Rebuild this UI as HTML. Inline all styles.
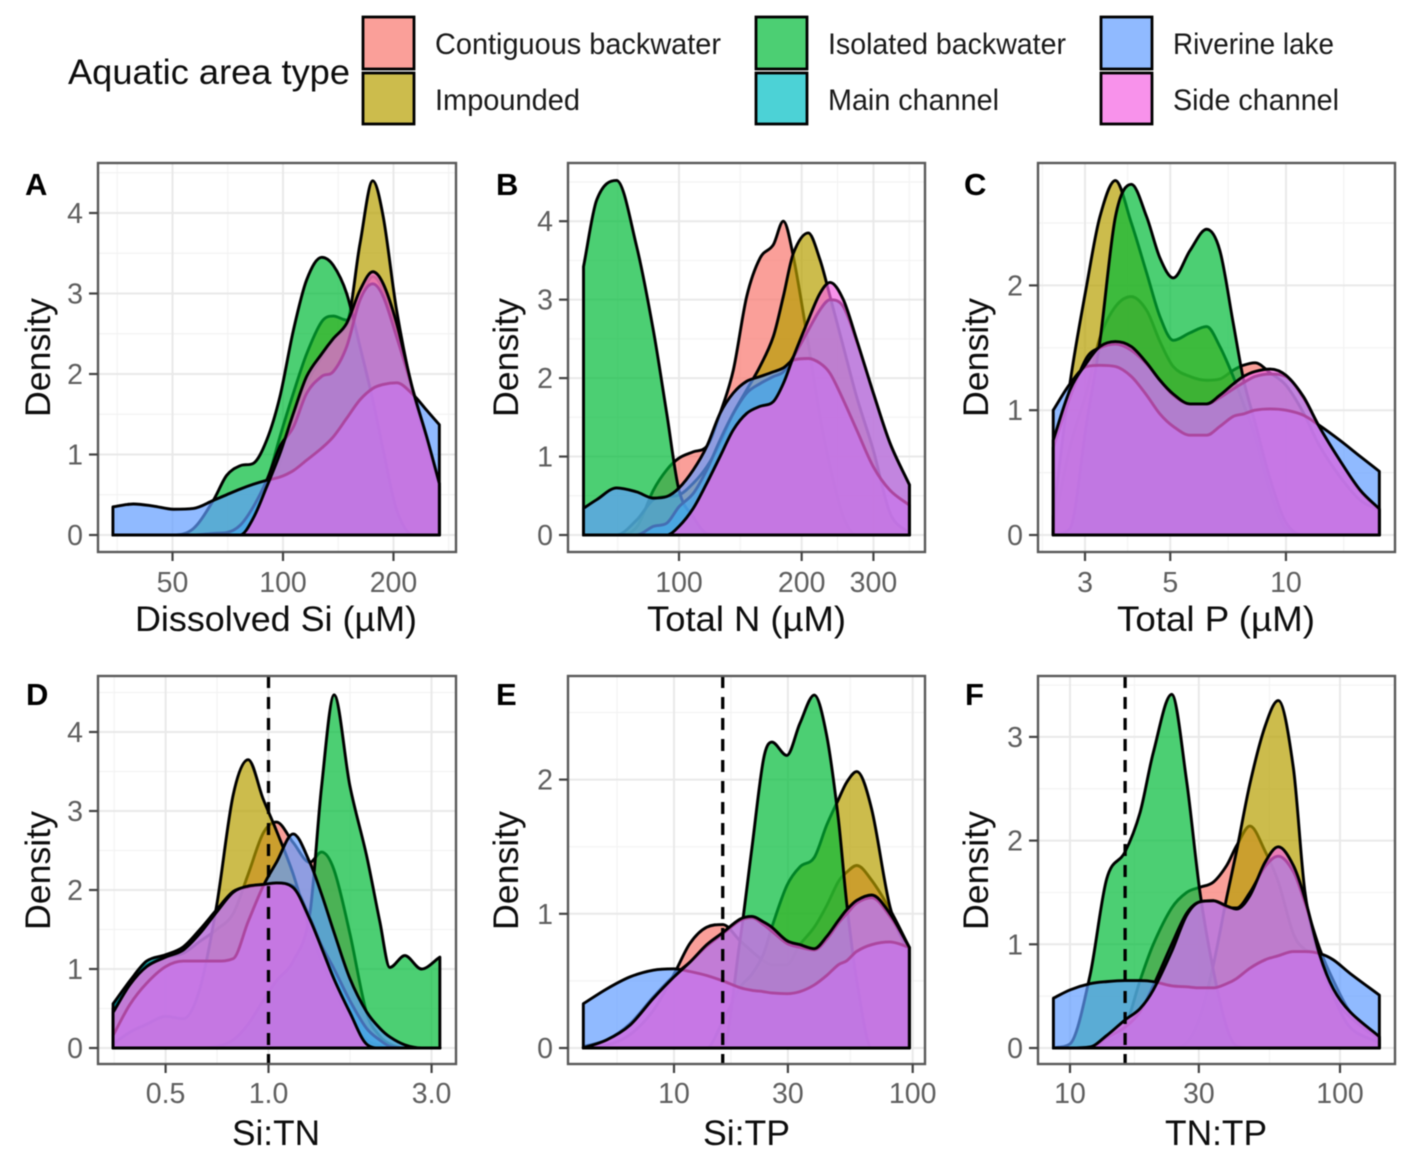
<!DOCTYPE html>
<html lang="en">
<head>
<meta charset="utf-8">
<title>Aquatic area type density panels</title>
<style>
html,body{margin:0;padding:0;background:#fff;}
#figure{display:block;width:1418px;height:1167px;filter:blur(0.6px);font-family:"Liberation Sans",sans-serif;}
.title{font-size:35px;fill:#0d0d0d;}
.leg{font-size:30px;fill:#1a1a1a;}
.letter{font-size:31px;font-weight:bold;fill:#000;}
.tick{font-size:28.5px;fill:#5f5f5f;}
</style>
</head>
<body>
<svg id="figure" xmlns="http://www.w3.org/2000/svg" width="1418" height="1167" viewBox="0 0 1418 1167">
  <rect x="0" y="0" width="1418" height="1167" fill="#fff"/>
  <g id="panels"></g>
  <g>
    <text class="title" x="68" y="84" textLength="282" lengthAdjust="spacingAndGlyphs">Aquatic area type</text>
    <rect x="363" y="17" width="51" height="52" fill="#F8766D" fill-opacity="0.7" stroke="#000" stroke-width="2.8"/>
    <rect x="363" y="73" width="51" height="51" fill="#B79F00" fill-opacity="0.7" stroke="#000" stroke-width="2.8"/>
    <rect x="756" y="17" width="51" height="52" fill="#00BA38" fill-opacity="0.7" stroke="#000" stroke-width="2.8"/>
    <rect x="756" y="73" width="51" height="51" fill="#00BFC4" fill-opacity="0.7" stroke="#000" stroke-width="2.8"/>
    <rect x="1101" y="17" width="51" height="52" fill="#619CFF" fill-opacity="0.7" stroke="#000" stroke-width="2.8"/>
    <rect x="1101" y="73" width="51" height="51" fill="#F564E3" fill-opacity="0.7" stroke="#000" stroke-width="2.8"/>
    <text class="leg" x="435" y="54" textLength="286" lengthAdjust="spacingAndGlyphs">Contiguous backwater</text>
    <text class="leg" x="435" y="110" textLength="145" lengthAdjust="spacingAndGlyphs">Impounded</text>
    <text class="leg" x="828" y="54" textLength="238" lengthAdjust="spacingAndGlyphs">Isolated backwater</text>
    <text class="leg" x="828" y="110" textLength="171" lengthAdjust="spacingAndGlyphs">Main channel</text>
    <text class="leg" x="1173" y="54" textLength="161" lengthAdjust="spacingAndGlyphs">Riverine lake</text>
    <text class="leg" x="1173" y="110" textLength="166" lengthAdjust="spacingAndGlyphs">Side channel</text>
  </g>
  <g>
    <text class="title" x="135" y="631" textLength="282" lengthAdjust="spacingAndGlyphs">Dissolved Si (µM)</text>
    <text class="title" x="647" y="631" textLength="199" lengthAdjust="spacingAndGlyphs">Total N (µM)</text>
    <text class="title" x="1117" y="631" textLength="198" lengthAdjust="spacingAndGlyphs">Total P (µM)</text>
    <text class="title" x="232" y="1145" textLength="88" lengthAdjust="spacingAndGlyphs">Si:TN</text>
    <text class="title" x="703" y="1145" textLength="87" lengthAdjust="spacingAndGlyphs">Si:TP</text>
    <text class="title" x="1165" y="1145" textLength="102" lengthAdjust="spacingAndGlyphs">TN:TP</text>
    <text class="title" transform="translate(50 417) rotate(-90)" textLength="119" lengthAdjust="spacingAndGlyphs">Density</text>
    <text class="title" transform="translate(518 417) rotate(-90)" textLength="119" lengthAdjust="spacingAndGlyphs">Density</text>
    <text class="title" transform="translate(988 417) rotate(-90)" textLength="119" lengthAdjust="spacingAndGlyphs">Density</text>
    <text class="title" transform="translate(50 930) rotate(-90)" textLength="119" lengthAdjust="spacingAndGlyphs">Density</text>
    <text class="title" transform="translate(518 930) rotate(-90)" textLength="119" lengthAdjust="spacingAndGlyphs">Density</text>
    <text class="title" transform="translate(988 930) rotate(-90)" textLength="119" lengthAdjust="spacingAndGlyphs">Density</text>
  </g>
  <g>
    <text class="letter" x="25" y="195">A</text>
    <text class="letter" x="496" y="195">B</text>
    <text class="letter" x="964" y="195">C</text>
    <text class="letter" x="26" y="705">D</text>
    <text class="letter" x="496" y="705">E</text>
    <text class="letter" x="965" y="705">F</text>
  </g>
</svg>
<script>
// Panel A: Dissolved Si (µM)
const aX=[34.4,39.1,44.3,50.3,57.0,64.6,70.2,76.4,83.0,90.3,98.1,106.7,116.0,127.5,137.1,149.1,162.1,175.6,187.6,204.0,226.6,246.3,266.7];
const aContiguous=[0,0,0,0,0,0,0,0,.14,.48,.89,1.47,1.88,2.21,2.42,2.59,2.92,3.21,3.04,2.54,1.72,1.14,.56];
const aImpounded=[0,0,0,0,0,0,0,0,.19,.64,1.22,1.76,2.25,2.65,2.72,2.67,3.62,4.4,3.95,2.79,1.74,1.14,.6];
const aIsolated=[0,0,0,0,.08,.43,.74,.86,.89,1.18,1.72,2.54,3.17,3.45,3.35,3.0,2.34,1.68,1.05,.31,0,0,0];
const aMain=[0,0,0,0,0,.02,.03,.12,.35,.68,1.1,1.34,1.76,1.97,2.03,2.34,2.92,3.12,2.96,2.46,1.78,1.22,.64];
const aRiverine=[.35,.385,.36,.32,.33,.43,.5,.57,.63,.68,.72,.8,.93,1.08,1.22,1.45,1.68,1.82,1.87,1.89,1.74,1.55,1.37];
const aSide=[0,0,0,0,0,0,0,0,.21,.6,1.01,1.51,1.97,2.25,2.44,2.63,3.04,3.27,3.12,2.63,1.78,1.22,.64];
const aXTicks=[50,100,200];
const aXTickLabels=['50','100','200'];
const aYTicks=[0,1,2,3,4];

// Panel B: Total N (µM)
const bX=[58.3,62.8,70.3,78.7,86.5,93.3,100,108.4,117.0,126.1,135.9,146.6,158.1,170.4,180.3,190.8,207.6,221.8,234.8,253.1,272.9,299.8,329.5,367.6];
const bContiguous=[0,0,0,.1,.57,.83,.98,1.06,1.13,1.55,2.1,3.04,3.53,3.7,4.0,3.55,2.44,1.51,.87,.23,0,0,0,0];
const bImpounded=[0,0,0,.19,.45,.49,.51,.66,.87,1.17,1.55,1.85,2.15,2.53,3.04,3.59,3.85,3.51,3.04,2.4,1.76,1.08,.28,.02];
const bIsolated=[3.42,4.27,4.52,3.68,2.61,1.55,.57,.23,.02,0,0,0,0,0,0,0,0,0,0,0,0,0,0,0];
const bMain=[0,0,0,0,.11,.15,.36,.53,.83,1.21,1.55,1.81,1.93,2.02,2.08,2.27,2.61,2.87,3.0,2.91,2.47,1.81,1.17,.64];
const bRiverine=[.34,.45,.6,.55,.47,.49,.6,.83,1.13,1.55,1.81,1.96,2.02,2.08,2.13,2.23,2.25,2.19,2.06,1.72,1.34,.87,.57,.38];
const bSide=[0,0,0,0,0,0,.11,.34,.66,1.0,1.34,1.55,1.64,1.7,1.93,2.27,2.74,3.08,3.22,3.0,2.49,1.81,1.17,.64];
const bXTicks=[100,200,300];
const bXTickLabels=['100','200','300'];
const bYTicks=[0,1,2,3,4];

// Panel C: Total P (µM)
const cX=[2.48,2.74,3.03,3.28,3.60,3.96,4.34,4.70,5.09,5.63,6.22,6.73,7.29,7.75,8.31,9.09,10.0,11.1,12.2,13.8,15.6,17.5];
const cContiguous=[.05,.7,1.15,1.58,1.83,1.91,1.8,1.55,1.35,1.27,1.24,1.25,1.32,1.36,1.38,1.3,1.2,.98,.72,.47,.28,.2];
const cImpounded=[.15,1.21,2.0,2.55,2.84,2.5,2.1,1.75,1.56,1.62,1.67,1.51,1.27,1.05,.79,.35,.05,0,0,0,0,0];
const cIsolated=[0,.05,.9,1.55,2.55,2.81,2.55,2.22,2.06,2.28,2.45,2.28,1.7,1.25,.9,.45,.1,0,0,0,0,0];
const cMain=[.7,1.1,1.42,1.5,1.53,1.48,1.37,1.24,1.12,1.05,1.05,1.1,1.17,1.22,1.27,1.29,1.27,1.1,.87,.6,.35,.2];
const cRiverine=[1.0,1.21,1.35,1.36,1.35,1.27,1.12,.97,.87,.8,.8,.87,.95,.97,1.0,1.01,1.0,.96,.88,.76,.63,.51];
const cSide=[.76,1.16,1.38,1.51,1.55,1.51,1.38,1.24,1.13,1.05,1.05,1.12,1.21,1.27,1.31,1.33,1.28,1.11,.87,.6,.36,.21];
const cXTicks=[3,5,10];
const cXTickLabels=['3','5','10'];
const cYTicks=[0,1,2];

// Panel D: Si:TN
const dX=[.351,.393,.44,.5,.563,.63,.705,.788,.872,.965,1.055,1.181,1.321,1.429,1.556,1.73,1.935,2.117,2.265,2.505,2.803,3.172];
const dContiguous=[.5,.85,1.05,1.15,1.2,1.35,1.5,1.7,2.2,2.72,2.86,2.6,2.35,2.48,2.25,1.45,.45,.15,.05,0,0,0];
const dImpounded=[.05,.2,.3,.4,.37,.75,1.8,3.2,3.65,3.15,2.75,2.2,1.5,1.1,.75,.35,.1,.03,0,0,0,0];
const dIsolated=[0,0,0,0,0,0,.02,.1,.3,.6,.85,1.1,1.7,3.3,4.47,3.32,2.44,1.6,1.02,1.17,1.0,1.15];
const dMain=[.56,.85,1.1,1.18,1.28,1.5,1.75,1.98,2.04,2.07,2.09,2.05,1.65,1.3,1.0,.6,.25,.1,.02,0,0,0];
const dRiverine=[.16,.55,.82,1.03,1.1,1.1,1.1,1.13,1.6,2.05,2.35,2.71,2.35,1.95,1.46,.88,.46,.25,.14,.04,0,0];
const dSide=[.45,.8,1.03,1.15,1.24,1.45,1.72,1.97,2.05,2.07,2.09,2.03,1.63,1.27,.87,.45,.05,0,0,0,0,0];
const dXTicks=[.5,1,3];
const dXTickLabels=['0.5','1.0','3.0'];
const dYTicks=[0,1,2,3,4];
const dReference=[1];

// Panel E: Si:TP
const eX=[4.17,5.22,6.54,8.19,10,11.67,13.71,16,18.9,21.2,23.7,25.7,29.7,33.7,38.7,43.6,48.8,52.9,58.3,67.3,80.4,96.8];
const eContiguous=[0,.02,.1,.28,.55,.78,.9,.92,.8,.72,.65,.62,.62,.77,.9,1.06,1.24,1.31,1.36,1.25,1.03,.75];
const eImpounded=[0,0,0,0,0,0,0,.2,.45,.55,.7,.9,1.21,1.35,1.42,1.66,1.85,1.98,2.06,1.78,1.05,.7];
const eIsolated=[0,0,0,0,0,0,0,0,.8,1.49,2.15,2.28,2.18,2.42,2.63,2.33,1.71,1.08,.5,0,0,0];
const eMain=[.01,.06,.18,.38,.54,.64,.76,.85,.95,.97,.92,.87,.78,.75,.73,.81,.93,1.0,1.08,1.12,.98,.75];
const eRiverine=[.33,.44,.53,.58,.59,.57,.54,.5,.45,.43,.42,.41,.405,.42,.47,.54,.62,.65,.72,.77,.79,.75];
const eSide=[0,.06,.17,.37,.53,.64,.77,.86,.96,.98,.94,.9,.8,.77,.74,.83,.95,1.03,1.1,1.14,1.0,.75];
const eXTicks=[10,30,100];
const eXTickLabels=['10','30','100'];
const eYTicks=[0,1,2];
const eReference=[16];

// Panel F: TN:TP
const fX=[8.68,10,11.86,13.67,15.98,18.17,20.35,23.8,27.05,30.3,33.95,38.04,41.4,46.4,52.75,59.1,67.2,74.2,84.3,94.5,108.9,139.9];
const fContiguous=[0,0,0,.05,.2,.65,1.0,1.35,1.5,1.55,1.6,1.76,1.95,2.14,1.9,1.6,1.1,.95,.9,.5,.3,.08];
const fImpounded=[0,0,0,0,0,0,0,0,.05,.3,.8,1.45,1.9,2.55,3.1,3.35,2.7,1.5,.85,.5,.2,.05];
const fIsolated=[0,.04,.7,1.63,1.89,2.27,2.85,3.41,2.57,1.5,.75,.2,.02,0,0,0,0,0,0,0,0,0];
const fMain=[0,0,0,.1,.2,.35,.6,1.0,1.3,1.41,1.42,1.36,1.35,1.5,1.75,1.85,1.7,1.4,.95,.65,.35,.1];
const fRiverine=[.48,.56,.62,.64,.65,.65,.64,.6,.59,.58,.58,.62,.67,.77,.85,.89,.93,.93,.91,.85,.72,.51];
const fSide=[0,0,.01,.12,.27,.38,.56,.93,1.28,1.41,1.42,1.37,1.34,1.47,1.79,1.94,1.76,1.44,.89,.57,.35,.11];
const fXTicks=[10,30,100];
const fXTickLabels=['10','30','100'];
const fYTicks=[0,1,2,3];
const fReference=[16];

const seriesNames=['contiguous-backwater','impounded','isolated-backwater','main-channel','riverine-lake','side-channel'];
const seriesColors=['#F8766D','#B79F00','#00BA38','#00BFC4','#619CFF','#F564E3'];

const NS='http://www.w3.org/2000/svg';
const root=document.getElementById('panels');

function add(parent,tag,attrs){
  const el=document.createElementNS(NS,tag);
  for(const k in attrs){el.setAttribute(k,attrs[k]);}
  parent.appendChild(el);
  return el;
}

// Smooth cubic path: centred tangents limited so the curve never overshoots the knots.
function smoothPath(px,py){
  const n=px.length,d=[],m=[];
  for(let i=0;i<n-1;i++){d.push((py[i+1]-py[i])/(px[i+1]-px[i]));}
  m.push(d[0]);
  for(let i=1;i<n-1;i++){
    if(d[i-1]*d[i]<=0){m.push(0);}
    else{
      const c=(py[i+1]-py[i-1])/(px[i+1]-px[i-1]);
      const lim=3*Math.min(Math.abs(d[i-1]),Math.abs(d[i]));
      m.push(Math.sign(c)*Math.min(Math.abs(c),lim));
    }
  }
  m.push(d[n-2]);
  let s='';
  for(let i=0;i<n-1;i++){
    const h=(px[i+1]-px[i])/3;
    s+=' C'+(px[i]+h).toFixed(2)+','+(py[i]+m[i]*h).toFixed(2)+' '+(px[i+1]-h).toFixed(2)+','+(py[i+1]-m[i+1]*h).toFixed(2)+' '+px[i+1].toFixed(2)+','+py[i+1].toFixed(2);
  }
  return s;
}

function drawPanel(cfg){
  const xScale=v=>cfg.xAnchorPx+(Math.log10(v)-Math.log10(cfg.xAnchor))*cfg.decadePx;
  const yScale=v=>cfg.y0-v*cfg.unit;
  const g=add(root,'g',{});
  
  

  add(g,'rect',{x:cfg.left,y:cfg.top,width:cfg.right-cfg.left,height:cfg.bottom-cfg.top,fill:'#fff'});

  // minor grid
  const tx=cfg.xTicks.map(xScale);
  const minorX=[];
  for(let i=0;i<tx.length-1;i++){minorX.push((tx[i]+tx[i+1])/2);}
  minorX.push(tx[0]-(tx[1]-tx[0])/2);
  minorX.push(tx[tx.length-1]+(tx[tx.length-1]-tx[tx.length-2])/2);
  minorX.filter(p=>p>cfg.left&&p<cfg.right).forEach(p=>{
    const el=add(g,'line',{x1:p,x2:p,y1:cfg.top,y2:cfg.bottom,stroke:'#f3f3f3','stroke-width':1.2});
    
    
  });
  const step=cfg.yTicks[1]-cfg.yTicks[0];
  for(let v=cfg.yTicks[0]+step/2;yScale(v)>cfg.top;v+=step){
    const p=yScale(v);
    const el=add(g,'line',{x1:cfg.left,x2:cfg.right,y1:p,y2:p,stroke:'#f3f3f3','stroke-width':1.2});
    
    
  }
  // major grid
  tx.forEach(p=>{
    const el=add(g,'line',{x1:p,x2:p,y1:cfg.top,y2:cfg.bottom,stroke:'#e9e9e9','stroke-width':2});
    
    
  });
  cfg.yTicks.forEach(v=>{
    const p=yScale(v);
    const el=add(g,'line',{x1:cfg.left,x2:cfg.right,y1:p,y2:p,stroke:'#e9e9e9','stroke-width':2});
    
    
  });

  // density areas, in legend order
  cfg.series.forEach((vals,i)=>{
    const px=cfg.x.map(xScale);
    const py=vals.map(yScale);
    const n=px.length;
    const d='M'+px[0].toFixed(2)+','+cfg.y0+' L'+px[0].toFixed(2)+','+py[0].toFixed(2)+smoothPath(px,py)+' L'+px[n-1].toFixed(2)+','+cfg.y0+' Z';
    const el=add(g,'path',{d:d,fill:seriesColors[i],'fill-opacity':0.7,stroke:'#000','stroke-width':2.9,'stroke-linejoin':'round'});
    
    
  });

  // reference line
  (cfg.reference||[]).forEach(v=>{
    const p=xScale(v);
    const el=add(g,'line',{x1:p,x2:p,y1:cfg.top,y2:cfg.bottom,stroke:'#000','stroke-width':3.3,'stroke-dasharray':'12 9'});
    
    
  });

  const border=add(g,'rect',{x:cfg.left,y:cfg.top,width:cfg.right-cfg.left,height:cfg.bottom-cfg.top,fill:'none',stroke:'#5a5a5a','stroke-width':2.4});
  
  

  // x ticks
  cfg.xTicks.forEach((v,i)=>{
    const p=xScale(v);
    const tick=add(g,'line',{x1:p,x2:p,y1:cfg.bottom,y2:cfg.bottom+9,stroke:'#444','stroke-width':2.2});
    
    
    const t=add(g,'text',{x:p,y:cfg.bottom+cfg.xLabelDy,'text-anchor':'middle','class':'tick'});
    t.textContent=cfg.xTickLabels[i];
    
    
  });
  // y ticks
  cfg.yTicks.forEach(v=>{
    const p=yScale(v);
    const tick=add(g,'line',{x1:cfg.left-9,x2:cfg.left,y1:p,y2:p,stroke:'#444','stroke-width':2.2});
    
    
    const t=add(g,'text',{x:cfg.left-15,y:p+10,'text-anchor':'end','class':'tick'});
    t.textContent=String(v);
    
    
  });
}

drawPanel({id:'a',left:98,right:456,top:163,bottom:552,xAnchor:100,xAnchorPx:283,decadePx:367,y0:535,unit:80.5,xLabelDy:40,
  x:aX,series:[aContiguous,aImpounded,aIsolated,aMain,aRiverine,aSide],xTicks:aXTicks,xTickLabels:aXTickLabels,yTicks:aYTicks});
drawPanel({id:'b',left:568,right:925,top:163,bottom:552,xAnchor:100,xAnchorPx:679,decadePx:407.5,y0:535,unit:78.45,xLabelDy:40,
  x:bX,series:[bContiguous,bImpounded,bIsolated,bMain,bRiverine,bSide],xTicks:bXTicks,xTickLabels:bXTickLabels,yTicks:bYTicks});
drawPanel({id:'c',left:1038,right:1395,top:163,bottom:552,xAnchor:3,xAnchorPx:1085,decadePx:384.3,y0:535,unit:124.8,xLabelDy:40,
  x:cX,series:[cContiguous,cImpounded,cIsolated,cMain,cRiverine,cSide],xTicks:cXTicks,xTickLabels:cXTickLabels,yTicks:cYTicks});
drawPanel({id:'d',left:98,right:456,top:676,bottom:1064,xAnchor:1,xAnchorPx:268.5,decadePx:341.8,y0:1048,unit:79,xLabelDy:39,
  x:dX,series:[dContiguous,dImpounded,dIsolated,dMain,dRiverine,dSide],xTicks:dXTicks,xTickLabels:dXTickLabels,yTicks:dYTicks,reference:dReference});
drawPanel({id:'e',left:568,right:925,top:676,bottom:1064,xAnchor:10,xAnchorPx:674,decadePx:238.7,y0:1048,unit:134.2,xLabelDy:39,
  x:eX,series:[eContiguous,eImpounded,eIsolated,eMain,eRiverine,eSide],xTicks:eXTicks,xTickLabels:eXTickLabels,yTicks:eYTicks,reference:eReference});
drawPanel({id:'f',left:1038,right:1395,top:676,bottom:1064,xAnchor:10,xAnchorPx:1070,decadePx:270,y0:1048,unit:103.7,xLabelDy:39,
  x:fX,series:[fContiguous,fImpounded,fIsolated,fMain,fRiverine,fSide],xTicks:fXTicks,xTickLabels:fXTickLabels,yTicks:fYTicks,reference:fReference});
</script>
</body>
</html>
